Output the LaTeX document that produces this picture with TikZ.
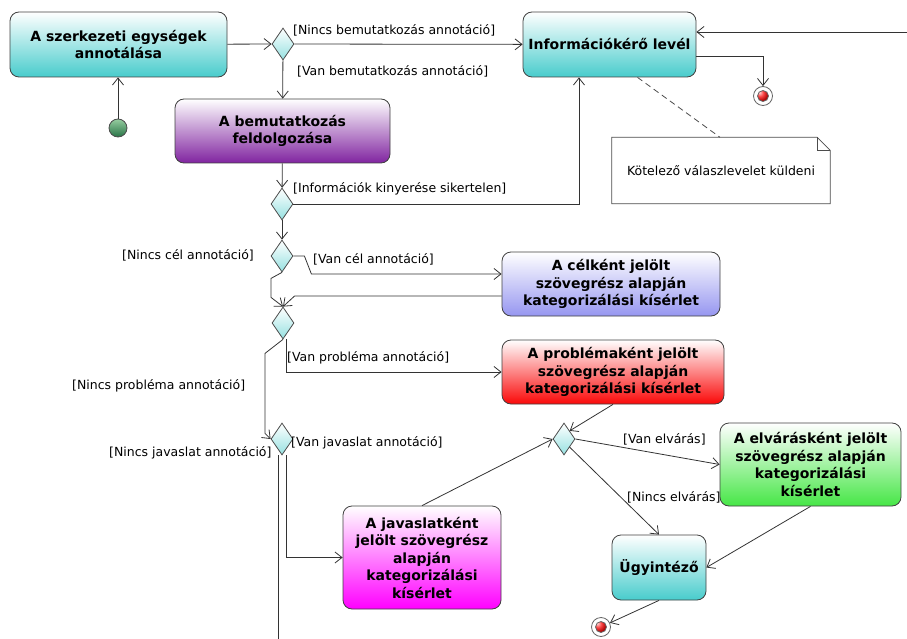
\documentclass[tikz,border=0pt]{standalone}
\usepackage{fontspec}
\setmainfont{DejaVu Sans}
\usetikzlibrary{shapes.geometric,arrows.meta}
\definecolor{actteal}{RGB}{72,204,204}
\definecolor{actpurple}{RGB}{128,36,160}
\definecolor{actblue}{RGB}{150,150,240}
\definecolor{actred}{RGB}{250,8,8}
\definecolor{actgreen}{RGB}{70,230,70}
\definecolor{actmagenta}{RGB}{255,0,255}
\definecolor{decfill}{RGB}{150,225,225}
\definecolor{starttop}{RGB}{150,205,160}
\definecolor{startbottom}{RGB}{40,115,70}
\begin{document}
\begin{tikzpicture}[x=1pt,y=-1pt,>={Straight Barb[length=7pt,width=11pt]},
  act/.style={draw=black!75,line width=0.8pt,rounded corners=9pt,align=center,inner sep=0pt,
    font=\bfseries\fontsize{14}{17.5}\selectfont,top color=white,bottom color=#1},
  dec/.style={diamond,draw=black!70,line width=0.8pt,inner sep=0pt,minimum width=22pt,
    minimum height=32pt,top color=white,bottom color=decfill},
  startnode/.style={circle,draw=black!70,line width=0.8pt,minimum size=18pt,inner sep=0pt,
    top color=starttop,bottom color=startbottom},
  finnode/.style={circle,draw=black!60,line width=0.8pt,fill=white,minimum size=19pt,inner sep=0pt,
    path picture={\shadedraw[draw=black!60,ball color=actred] (path picture bounding box.center) circle (5.5pt);}},
  notebox/.style={minimum width=218pt,minimum height=66pt,inner sep=0pt,font=\fontsize{12.5}{15}\selectfont},
  lbl/.style={anchor=west,inner sep=0pt,font=\fontsize{12.5}{15}\selectfont},
  flow/.style={->,draw=black!80,line width=0.8pt}]
\useasboundingbox (0,0) rectangle (907,639);
% activities
\node[act=actteal,minimum width=217pt,minimum height=65pt] (szerk) at (118.5,44.5) {A szerkezeti egységek\\annotálása};
\node[act=actteal,minimum width=173pt,minimum height=65pt] (info) at (609.5,44.5) {Információkérő levél};
\node[act=actpurple,minimum width=215pt,minimum height=64pt] (bemut) at (282.5,131) {A bemutatkozás\\feldolgozása};
\node[act=actblue,minimum width=218pt,minimum height=64pt] (cel) at (611,284) {A célként jelölt\\szövegrész alapján\\kategorizálási kísérlet};
\node[act=actred,minimum width=222pt,minimum height=64pt] (probl) at (613,372) {A problémaként jelölt\\szövegrész alapján\\kategorizálási kísérlet};
\node[act=actgreen,minimum width=181pt,minimum height=83pt] (elvar) at (810.5,464.5) {A elvárásként jelölt\\szövegrész alapján\\kategorizálási\\kísérlet};
\node[act=actmagenta,minimum width=158pt,minimum height=103pt] (javas) at (422,557.5) {A javaslatként\\jelölt szövegrész\\alapján\\kategorizálási\\kísérlet};
\node[act=actteal,minimum width=94pt,minimum height=65pt] (ugy) at (659,567.5) {Ügyintéző};
% decisions
\node[dec] (d1) at (283,44) {};
\node[dec] (d2) at (282,204) {};
\node[dec] (d3) at (282,256) {};
\node[dec] (d4) at (283,323) {};
\node[dec] (d5) at (282,439) {};
\node[dec] (d6) at (564,439) {};
% start, ends, note
\node[startnode] (start) at (118,128) {};
\node[finnode] (fin1) at (763,96) {};
\node[finnode] (fin2) at (601,627) {};
\node[notebox] (note) at (721,170.5) {Kötelező válaszlevelet küldeni};
\draw[black!70,line width=0.8pt] (note.north west) -- ([xshift=-13pt]note.north east) -- ([yshift=-13pt]note.north east) -- (note.south east) -- (note.south west) -- cycle;
\draw[black!70,line width=0.8pt] ([xshift=-13pt]note.north east) |- ([yshift=-13pt]note.north east);
\coordinate (entry) at (907,32);
\coordinate (exit) at (278,639);
% flows
\draw[flow] (start) -- (start |- szerk.south);
\draw[flow] (szerk) -- (d1);
\draw[flow] (d1) -- (info);
\draw[flow] (d1) -- (bemut);
\draw[flow] (entry) -- ([yshift=12.5pt]info.east);
\draw[flow] ([yshift=-11.5pt]info.east) -| (fin1);
\draw[dashed,dash pattern=on 6pt off 4pt,black!70,line width=0.8pt] ([xshift=28pt]info.south) -- ([xshift=-1pt]note.north);
\draw[flow] (bemut) -- (d2);
\draw[flow] (d2) -| ([xshift=-30.5pt]info.south);
\draw[flow] (d2) -- (d3);
\draw[flow] (d3.east) -- ++(11,0) -- ++(7,18) -- ([yshift=10pt]cel.west);
\draw[flow] (d3.south) -- ++(-11,6) -- ++(0,19) -- (d4.north);
\draw[flow] ([yshift=-12pt]cel.west) -- ++(-207,0) -- (d4.north);
\draw[flow] ([xshift=3pt]d4.south) |- (probl.west);
\draw[flow] (d4.south) -- ++(-18,14) -- ++(0,80) -- (d5.west);
\draw[flow] ([xshift=4pt]d5.south) |- (javas.west);
\draw[black!80,line width=0.8pt] ([xshift=-4pt]d5.south) -- (exit);
\draw[flow] (javas.north) -- (d6.west);
\draw[flow] (probl.south) -- (d6.north east);
\draw[flow] (d6.east) -- (elvar.west);
\draw[flow] (d6.south east) -- (ugy.north);
\draw[flow] (elvar.south) -- (ugy.east);
\draw[flow] (ugy.south) -- (fin2);
% guards
\node[lbl] (l1) at (293,30) {[Nincs bemutatkozás annotáció]};
\node[lbl] (l2) at (297,71) {[Van bemutatkozás annotáció]};
\node[lbl] (l3) at (293,189) {[Információk kinyerése sikertelen]};
\node[lbl] (l4) at (122,255) {[Nincs cél annotáció]};
\node[lbl] (l5) at (313,259) {[Van cél annotáció]};
\node[lbl] (l6) at (287,358) {[Van probléma annotáció]};
\node[lbl] (l7) at (72,386) {[Nincs probléma annotáció]};
\node[lbl] (l8) at (291,443) {[Van javaslat annotáció]};
\node[lbl] (l9) at (109,453) {[Nincs javaslat annotáció]};
\node[lbl] (l10) at (623,439) {[Van elvárás]};
\node[lbl] (l11) at (627,497) {[Nincs elvárás]};
\end{tikzpicture}
\end{document}
